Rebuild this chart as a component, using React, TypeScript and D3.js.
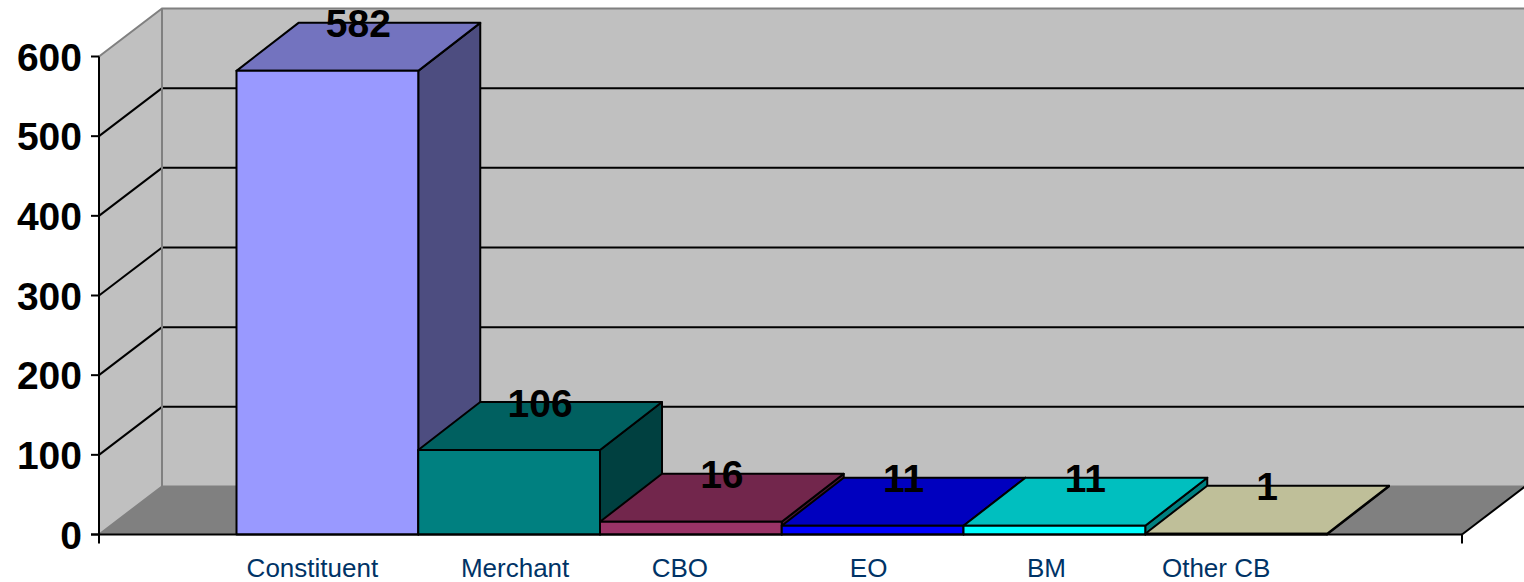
import React from "react";
import * as d3 from "d3";

const categories = ["Constituent", "Merchant", "CBO", "EO", "BM", "Other CB"];
const values = [582, 106, 16, 11, 11, 1];
const frontColors = ["#9999FF", "#008080", "#993366", "#0000FF", "#00FFFF", "#FFFFCC"];
const topColors = ["#7373BF", "#006060", "#72264C", "#0000BF", "#00BFBF", "#BFBF99"];
const sideColors = ["#4D4D80", "#004040", "#4C1933", "#000080", "#008080", "#808066"];
const yTicks = [0, 100, 200, 300, 400, 500, 600];

const W = 1524, H = 582;
const DX = 63, DY = -48;
const BAR_DX = 62;
const axisLeft = 99, axisRight = 1462;
const labelNudge = [-15, 6, -11, -4, -8, -20];

const y = d3.scaleLinear().domain([0, 600]).range([534.5, 56.5]);
const x = d3.scaleBand<string>().domain(categories).range([236.5, 1327]).padding(0);
const pts = (p: number[][]) => p.map((q) => q.join(",")).join(" ");
const FONT = "'Liberation Sans', Arial, sans-serif";

export default function App() {
  const y0 = y(0);
  const bw = x.bandwidth();
  return (
    <svg width={W} height={H} style={{ position: "absolute", left: 0, top: 0, background: "#fff" }} fontFamily={FONT}>
      {/* walls */}
      <polygon points={pts([[axisLeft, y0], [axisLeft, y(600)], [axisLeft + DX, y(600) + DY], [axisLeft + DX, y0 + DY]])} fill="#C0C0C0" />
      <polygon points={pts([[axisLeft + DX, y0 + DY], [axisLeft + DX, y(600) + DY], [W + 2, y(600) + DY], [W + 2, y0 + DY]])} fill="#C0C0C0" />
      <polygon points={pts([[axisLeft, y0], [axisRight, y0], [axisRight + DX, y0 + DY], [axisLeft + DX, y0 + DY]])} fill="#808080" />
      {/* grid */}
      {yTicks.filter((t) => t > 0 && t < 600).map((t) => (
        <g key={t} stroke="#000" strokeWidth={2} fill="none">
          <line x1={axisLeft} y1={y(t)} x2={axisLeft + DX} y2={y(t) + DY} />
          <line x1={axisLeft + DX} y1={y(t) + DY} x2={W + 2} y2={y(t) + DY} />
        </g>
      ))}
      <g stroke="#808080" strokeWidth={2} fill="none">
        <polyline points={pts([[axisLeft, y(600)], [axisLeft + DX, y(600) + DY], [W + 2, y(600) + DY]])} />
        <line x1={axisLeft + DX} y1={y(600) + DY} x2={axisLeft + DX} y2={y0 + DY} />
        <polyline points={pts([[axisLeft, y0], [axisLeft + DX, y0 + DY], [W + 2, y0 + DY]])} />
      </g>
      {/* bars */}
      {categories.map((c, i) => {
        const l = x(c) as number;
        const r = l + bw;
        const t = y(values[i]);
        return (
          <g key={c} stroke="#000" strokeWidth={2} strokeLinejoin="round">
            <polygon points={pts([[r, y0], [r, t], [r + BAR_DX, t + DY], [r + BAR_DX, y0 + DY]])} fill={sideColors[i]} />
            <polygon points={pts([[l, t], [r, t], [r + BAR_DX, t + DY], [l + BAR_DX, t + DY]])} fill={topColors[i]} />
            <rect x={l} y={t} width={bw} height={y0 - t} fill={frontColors[i]} />
          </g>
        );
      })}
      {/* axes */}
      <g stroke="#000" strokeWidth={2} fill="none">
        <line x1={axisLeft} y1={y(600)} x2={axisLeft} y2={y0 + 9} />
        <line x1={axisLeft - 8} y1={y0} x2={axisRight} y2={y0} />
        <line x1={axisRight} y1={y0} x2={axisRight} y2={y0 + 9} />
        <line x1={axisRight} y1={y0} x2={axisRight + DX} y2={y0 + DY} />
        {yTicks.map((t) => <line key={t} x1={axisLeft - 8} y1={y(t)} x2={axisLeft} y2={y(t)} />)}
      </g>
      {yTicks.map((t) => (
        <text key={t} x={82} y={y(t) + 14} textAnchor="end" fontSize={39} fontWeight="bold" fill="#000">{t}</text>
      ))}
      {categories.map((c, i) => (
        <text key={c} x={(x(c) as number) + bw / 2 + labelNudge[i]} y={577} textAnchor="middle" fontSize={26} fill="#003366">{c}</text>
      ))}
      {categories.map((c, i) => (
        <text key={c} x={(x(c) as number) + bw / 2 + BAR_DX / 2} y={y(values[i]) + DY + 14.5} textAnchor="middle" fontSize={39} fontWeight="bold" fill="#000">{values[i]}</text>
      ))}
    </svg>
  );
}
